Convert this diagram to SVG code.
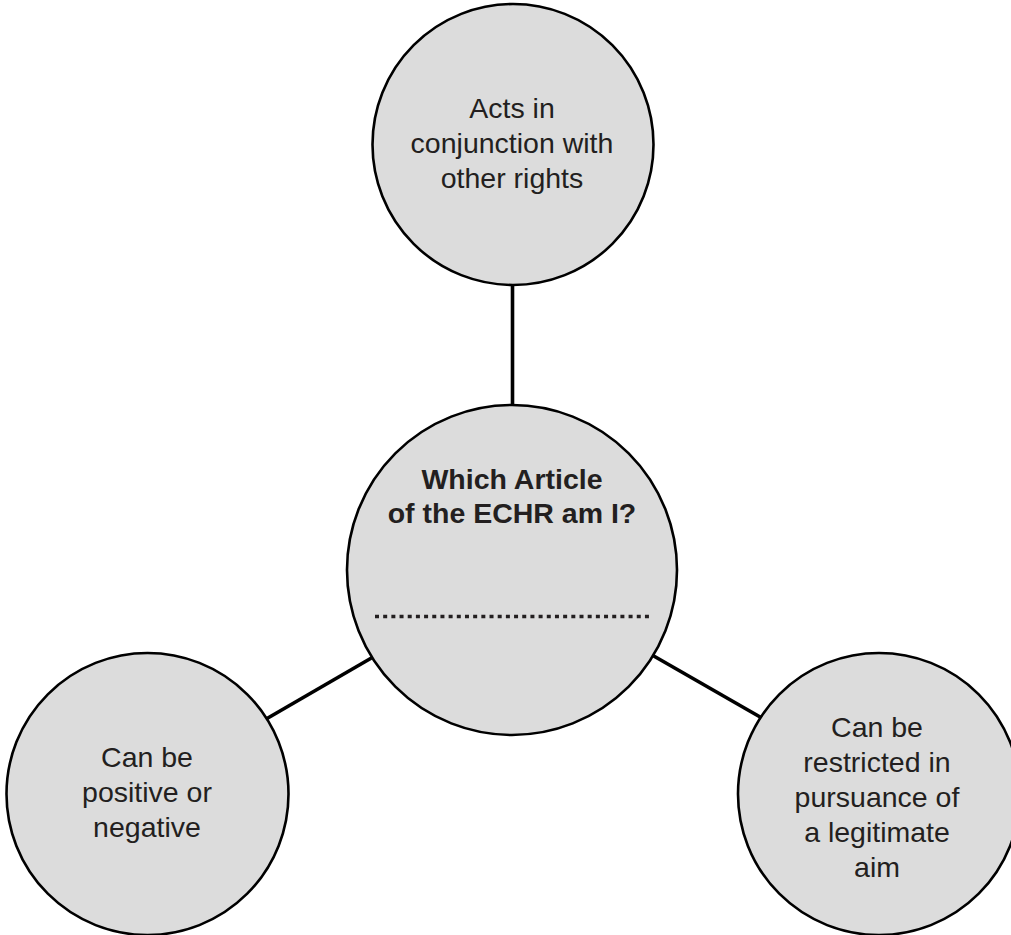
<svg xmlns="http://www.w3.org/2000/svg" width="1011" height="935" viewBox="0 0 1011 935">
<style>
.node{fill:#dcdcdc;stroke:#000;stroke-width:2.6}
.conn{stroke:#000;stroke-width:3.6;fill:none}
.t{font-family:"Liberation Sans",Arial,sans-serif;font-size:28.5px;fill:#231f20;text-anchor:middle}
.b{font-weight:bold}
</style>
<rect width="1011" height="935" fill="#fff"/>
<g id="connectors">
<line class="conn" x1="512.5" y1="284" x2="512.5" y2="406"/>
<line class="conn" x1="267" y1="718.5" x2="374" y2="656.5"/>
<line class="conn" x1="652" y1="655" x2="761" y2="717.5"/>
</g>
<g id="top">
<circle class="node" cx="513" cy="144.5" r="140.5"/>
<text class="t" x="512" y="118">Acts in</text>
<text class="t" x="512" y="153">conjunction with</text>
<text class="t" x="512" y="188">other rights</text>
</g>
<g id="center">
<circle class="node" cx="512" cy="570" r="165"/>
<text class="t b" x="512" y="489">Which Article</text>
<text class="t b" x="512" y="523">of the ECHR am I?</text>
<line x1="375" y1="616.5" x2="649" y2="616.5" stroke="#231f20" stroke-width="3.5" stroke-dasharray="4 4.18"/>
</g>
<g id="left">
<circle class="node" cx="147.5" cy="794" r="141"/>
<text class="t" x="147" y="767">Can be</text>
<text class="t" x="147" y="802">positive or</text>
<text class="t" x="147" y="837">negative</text>
</g>
<g id="right">
<circle class="node" cx="879" cy="794" r="141"/>
<text class="t" x="877" y="737">Can be</text>
<text class="t" x="877" y="772">restricted in</text>
<text class="t" x="877" y="807">pursuance of</text>
<text class="t" x="877" y="842">a legitimate</text>
<text class="t" x="877" y="877">aim</text>
</g>
</svg>
